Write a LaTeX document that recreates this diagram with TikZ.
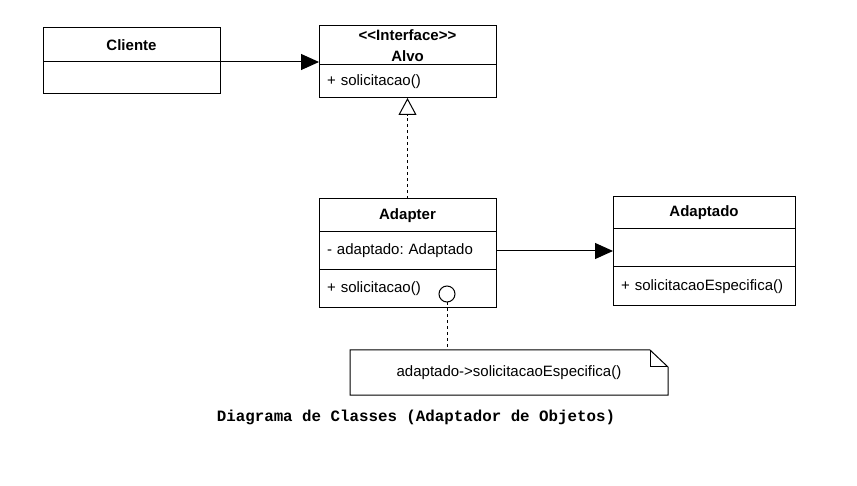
\documentclass[tikz,border=0pt]{standalone}
\usepackage{fontspec}
\setmainfont{Liberation Sans}[Ligatures=TeXOff]
\newfontfamily\captionmono{Liberation Mono}[Ligatures=TeXOff]
\usetikzlibrary{positioning,arrows.meta}
\frenchspacing

\begin{document}
\begin{tikzpicture}[x=1pt,y=-1pt,
    every node/.style={font=\fontsize{15}{18}\selectfont},
    classhead/.style={draw, line width=1pt, outer sep=0pt, minimum width=177pt, inner sep=0pt, align=center, font=\fontsize{15}{18}\selectfont\bfseries},
    classpart/.style={draw, line width=1pt, outer sep=0pt, minimum width=177pt, text width=161pt, inner xsep=8pt, inner ysep=0pt, align=left},
    assoc/.style={line width=1pt, -{Triangle[width=16pt,length=18pt]}},
    realize/.style={line width=1pt, dash pattern=on 3pt off 3pt, -{Triangle[open,width=18pt,length=17pt]}},
    noteline/.style={line width=1pt, dash pattern=on 3pt off 3pt}]
    \useasboundingbox (0,0) rectangle (857,486);

    % classes
    \node[classhead, minimum height=34pt] (clienteHead) at (131.5,45) {Cliente};
    \node[classpart, minimum height=32pt, below=0pt of clienteHead] (clienteBody) {};

    \node[classhead, minimum height=39pt] (alvoHead) at (407.5,45.5) {<<Interface>>\\[2.5pt]Alvo};
    \node[classpart, minimum height=33pt, below=0pt of alvoHead] (alvoBody) {+ solicitacao()};

    \node[classhead, minimum height=33pt] (adapterHead) at (407.5,215.5) {Adapter};
    \node[classpart, minimum height=38pt, below=0pt of adapterHead] (adapterAttr) {- adaptado: Adaptado};
    \node[classpart, minimum height=38pt, below=0pt of adapterAttr] (adapterOps) {+ solicitacao()};

    \node[classhead, minimum width=182pt, minimum height=32pt] (adaptadoHead) at (704,213) {Adaptado};
    \node[classpart, minimum width=182pt, text width=166pt, minimum height=38pt, below=0pt of adaptadoHead] (adaptadoAttr) {};
    \node[classpart, minimum width=182pt, text width=166pt, minimum height=39pt, below=0pt of adaptadoAttr] (adaptadoOps) {+ solicitacaoEspecifica()};

    % note
    \node[draw, circle, line width=1pt, minimum size=16pt, inner sep=0pt] (knob) at (447,294) {};
    \node[minimum width=318pt, minimum height=45pt, inner sep=0pt, outer sep=0pt] (note) at (509,372.5) {adaptado->solicitacaoEspecifica()};
    \draw[line width=1pt] (note.north west) -- ([xshift=-18pt]note.north east) -- ([yshift=-17pt]note.north east) -- (note.south east) -- (note.south west) -- cycle;
    \draw[line width=1pt] ([xshift=-18pt]note.north east) -- ([xshift=-18pt,yshift=-17pt]note.north east) -- ([yshift=-17pt]note.north east);

    % connectors
    \draw[assoc] (clienteHead.south east) -- (clienteHead.south east -| alvoHead.west);
    \draw[assoc] (adapterAttr.east) -- (adapterAttr.east -| adaptadoAttr.west);
    \draw[realize] (adapterHead.north) -- (alvoBody.south);
    \draw[noteline] (knob.south) -- (knob.south |- note.north);

    \node[font=\captionmono\bfseries\fontsize{15.8}{18}\selectfont] (caption) at (416,417) {Diagrama de Classes (Adaptador de Objetos)};
\end{tikzpicture}
\end{document}
